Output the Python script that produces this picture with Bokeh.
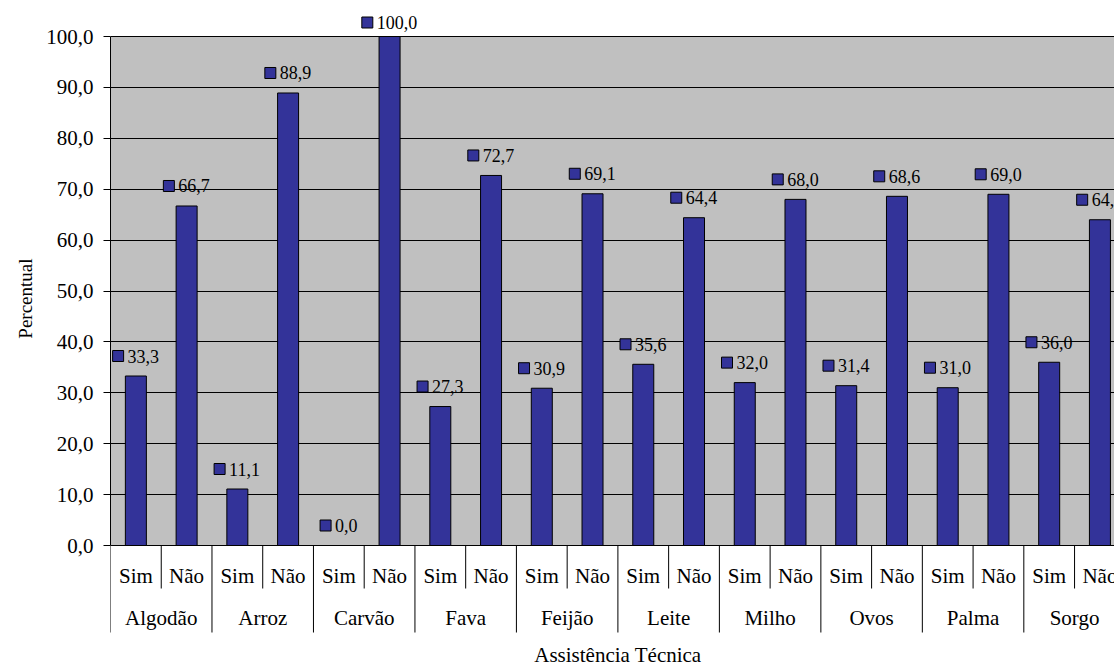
import numpy as np
from bokeh.plotting import figure
from bokeh.models import Range1d, FixedTicker, ColumnDataSource, Title
from bokeh.core.properties import value
from bokeh.embed import file_html
from bokeh.resources import INLINE

# ---------------- data ----------------
groups = ["Algodão", "Arroz", "Carvão", "Fava", "Feijão", "Leite", "Milho", "Ovos", "Palma", "Sorgo"]
answers = ["Sim", "Não"]
sim = [33.3, 11.1, 0.0, 27.3, 30.9, 35.6, 32.0, 31.4, 31.0, 36.0]
nao = [66.7, 88.9, 100.0, 72.7, 69.1, 64.4, 68.0, 68.6, 69.0, 64.0]
y_ticks = [0, 10, 20, 30, 40, 50, 60, 70, 80, 90, 100]
y_label = "Percentual"
x_label = "Assistência Técnica"

# ---------------- layout constants ----------------
W, H = 1114, 663
LEFT, TOP = 110, 10
FRAME_W = W - LEFT
FRAME_H = H - TOP
PX_PER_Y = 5.09          # pixels per percent unit
SLOT_PX = 50.74          # pixels per category slot
Y0_PX = 545              # pixel row of value 0
FONT = "Liberation Serif"
BAR = "#333399"

x_end = FRAME_W / SLOT_PX
y_top = 100 + (Y0_PX - TOP - 100 * PX_PER_Y) / PX_PER_Y
y_bot = y_top - FRAME_H / PX_PER_Y

def fmt(v):
    return f"{v:.1f}".replace(".", ",")

def py(px):
    """pixel row -> data y"""
    return (Y0_PX - px) / PX_PER_Y

# flatten groups x answers
xs, vals, subs = [], [], []
for gi, g in enumerate(groups):
    for ai, a in enumerate(answers):
        xs.append(gi * len(answers) + ai + 0.5)
        vals.append([sim, nao][ai][gi])
        subs.append(a)

p = figure(width=W, height=H, output_backend="svg", toolbar_location=None,
           x_range=Range1d(0, x_end), y_range=Range1d(y_bot, y_top),
           x_axis_location=None, min_border_left=LEFT, min_border_right=0,
           min_border_top=TOP, min_border_bottom=0,
           background_fill_color="white", border_fill_color="white")
p.outline_line_color = None
p.xgrid.visible = False

n_slots = len(groups) * len(answers)
# gray plot area
p.quad(left=[0], right=[n_slots], bottom=[0], top=[100], fill_color="#C0C0C0",
       line_color=None, level="image")

# y axis
ya = p.yaxis[0]
ya.bounds = (0, 100)
ya.ticker = FixedTicker(ticks=y_ticks)
ya.major_label_overrides = {t: fmt(t) for t in y_ticks}
ya.major_label_text_font = FONT
ya.major_label_text_font_size = "21px"
ya.major_label_text_color = "black"
ya.major_tick_in = 0
ya.major_tick_out = 7
ya.major_label_standoff = 10
ya.minor_tick_line_color = None
ya.axis_line_color = "black"
ya.major_tick_line_color = "black"

p.ygrid.grid_line_color = "black"
p.ygrid.grid_line_width = 1

# y axis title (placed from the top of the frame)
p.add_layout(Title(text=y_label, align="right", offset=248, standoff=16,
                   text_font=FONT, text_font_size="19px",
                   text_font_style="normal", text_color="black"), "left")

# bars
p.vbar(x=xs, top=vals, width=21 / SLOT_PX, bottom=0, fill_color=BAR,
       line_color="black", line_width=1)

# data labels: small square key + value, centered above bar
lab_txt = [fmt(v) for v in vals]
fs = 18
def tw(s):
    return sum(0.25 * fs if c == "," else 0.5 * fs for c in s)
sq_x, sq_y, tx_off, ty_off = [], [], [], []
for x, v, s in zip(xs, vals, lab_txt):
    total = 11 + 4 + tw(s)
    left = -total / 2
    top_px = Y0_PX - v * PX_PER_Y
    off = min(20, top_px - 22)
    sq_x.append(x + (left + 5.5) / SLOT_PX)
    sq_y.append(v + off / PX_PER_Y)
    tx_off.append(left + 15)
    ty_off.append(-off)
src = ColumnDataSource(dict(x=xs, y=vals, t=lab_txt, xo=tx_off, yo=ty_off))
p.scatter(x=sq_x, y=sq_y, marker="square", size=11, fill_color=BAR,
          line_color="black", line_width=1)
p.text(x="x", y="y", text="t", source=src, x_offset="xo", y_offset="yo",
       text_font=value(FONT), text_font_size=f"{fs}px", text_align="left",
       text_baseline="middle", text_color="black")

# category axis (two levels) below plot area
p.text(x=xs, y=[py(575)] * len(xs), text=subs, text_font=value(FONT),
       text_font_size="21px", text_align="center", text_baseline="middle",
       text_color="black")
gx = [gi * len(answers) + len(answers) / 2 for gi in range(len(groups))]
p.text(x=gx, y=[py(617)] * len(groups), text=groups, text_font=value(FONT),
       text_font_size="21px", text_align="center", text_baseline="middle",
       text_color="black")

# separators
gb = [gi * len(answers) for gi in range(len(groups) + 1)]
sb = [gi * len(answers) + 1 for gi in range(len(groups))]
p.segment(x0=gb, y0=[0] * len(gb), x1=gb, y1=[py(632)] * len(gb),
          line_color="black", line_width=1)
p.segment(x0=sb, y0=[0] * len(sb), x1=sb, y1=[py(588)] * len(sb),
          line_color="black", line_width=1)

# x axis title
p.text(x=[n_slots / 2], y=[py(654.5)], text=[x_label],
       text_font=value(FONT), text_font_size="21px", text_align="center",
       text_baseline="middle", text_color="black")

open("out.html", "w").write(file_html(p, INLINE))
